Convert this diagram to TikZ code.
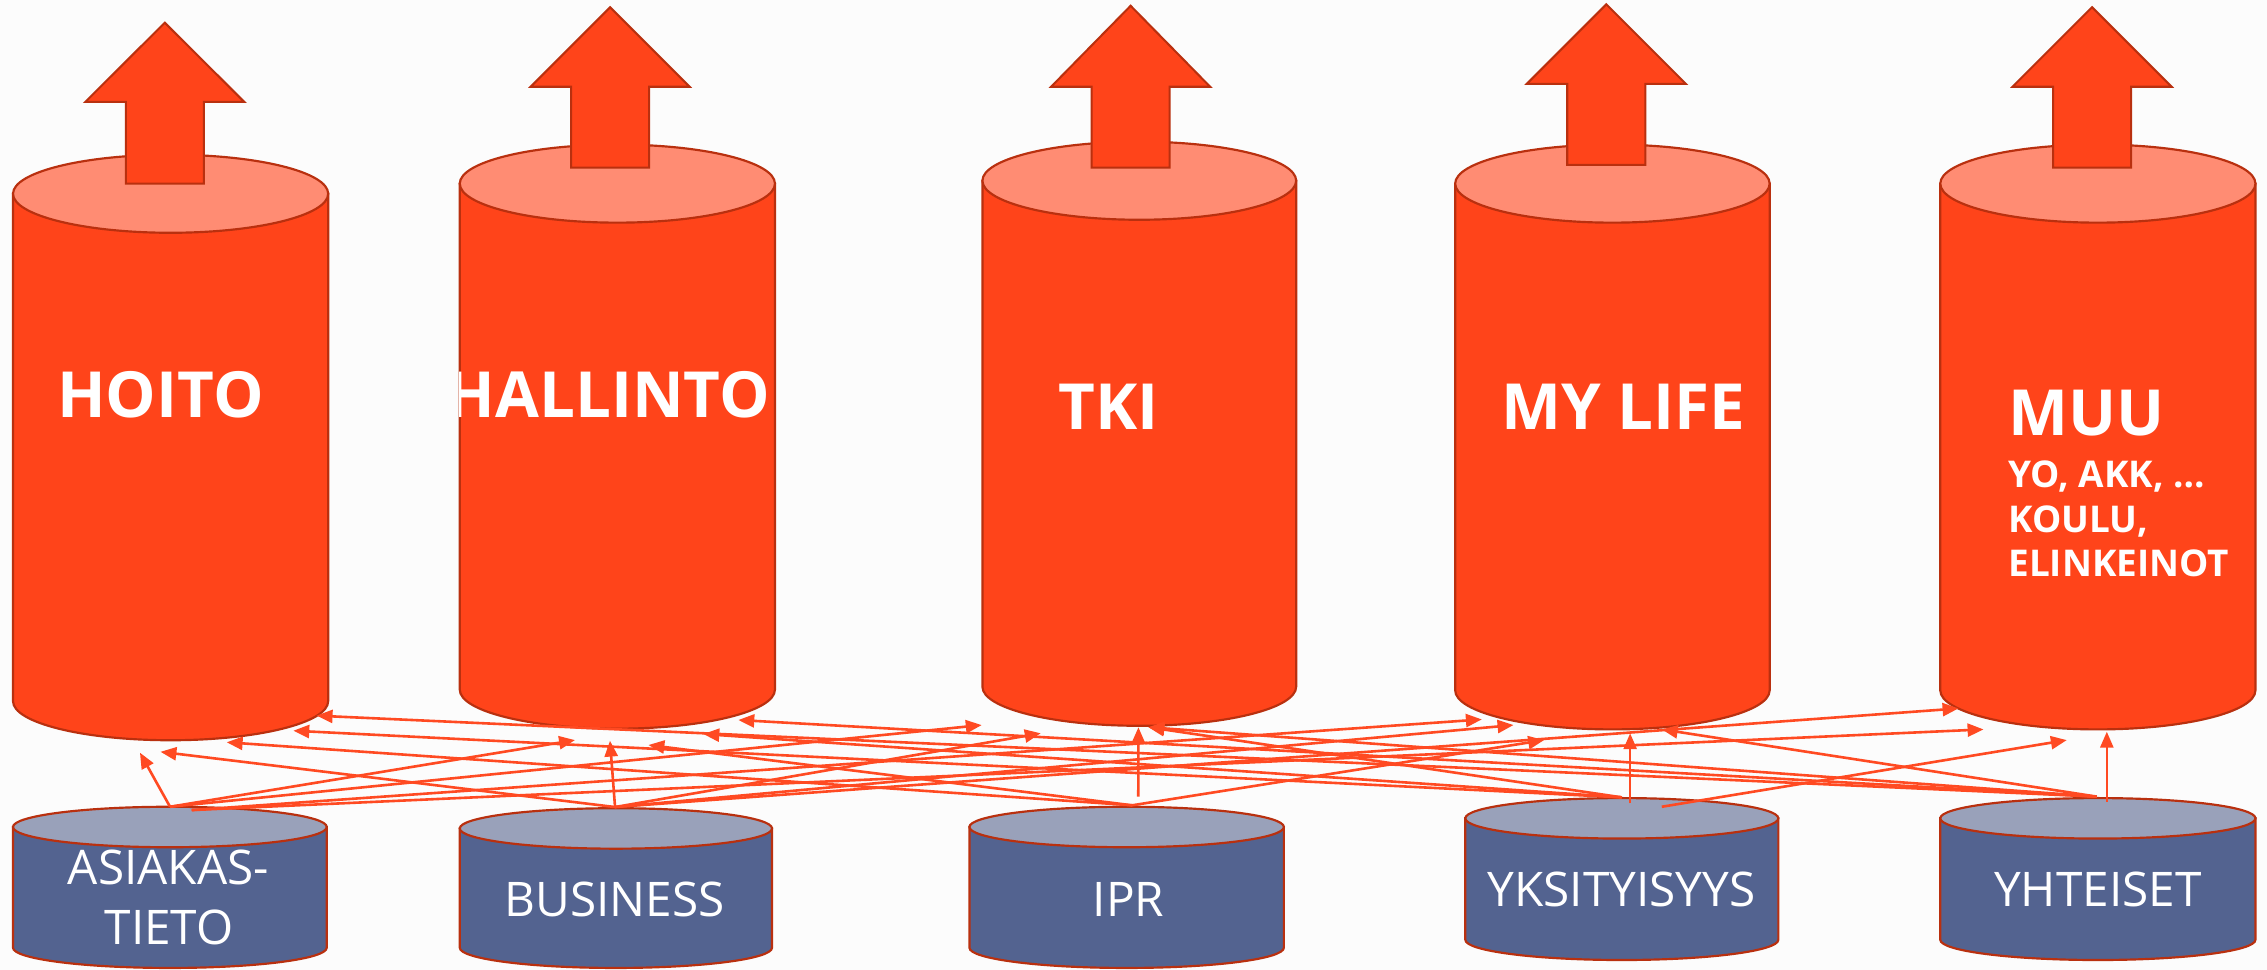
\documentclass[tikz,border=0pt]{standalone}
\usepackage{fontspec}
\setmainfont{Open Sans}
\usetikzlibrary{arrows.meta}
\definecolor{orbody}{HTML}{FF441A}
\definecolor{ortop}{HTML}{FF8C73}
\definecolor{edgec}{HTML}{B9300F}
\definecolor{blbody}{HTML}{536390}
\definecolor{bltop}{HTML}{99A1BA}
\definecolor{connc}{HTML}{FF4A22}
\definecolor{bgc}{HTML}{FCFCFC}
% #1 left, #2 right, #3 top centre y, #4 bottom centre y, #5 y radius, #6 body, #7 top
\newcommand\mycyl[7]{%
  \filldraw[fill=#6,draw=edgec,line width=1.5] (#1,#3) -- (#1,#4)
    arc[start angle=180,end angle=0,x radius={(#2-#1)/2},y radius=#5] -- (#2,#3) -- cycle;
  \filldraw[fill=#7,draw=edgec,line width=1.5] ({(#1+#2)/2},#3) ellipse[x radius={(#2-#1)/2},y radius=#5];
}
% #1 tip x, #2 tip y, #3 head base y, #4 shaft bottom y
\newcommand\myuparrow[4]{%
  \filldraw[fill=orbody,draw=edgec,line width=1.4] (#1,#2) -- ({#1+55},#3) -- ({#1+27},#3) -- ({#1+27},#4)
    -- ({#1-27},#4) -- ({#1-27},#3) -- ({#1-55},#3) -- cycle;
}
\tikzset{
  toplabel/.style={inner sep=0pt,text=white,font=\fontsize{44}{50}\selectfont\bfseries,anchor=base},
  sublabel/.style={inner sep=0pt,text=white,font=\fontsize{25.5}{30}\selectfont\bfseries,anchor=base west},
  botlabel/.style={inner sep=0pt,text=white,font=\fontsize{33}{40}\selectfont,anchor=base},
  conn/.style={draw=connc,line width=1.8,-{Triangle[length=11pt,width=9pt]}}
}
\begin{document}
\begin{tikzpicture}[x=1pt,y=-1pt]
\useasboundingbox (0,0) rectangle (1568,670.9);
\fill[bgc] (0,0) rectangle (1568,670.9);

% top cylinders
\mycyl{9}{227}{134}{485}{27}{orbody}{ortop}
\mycyl{318}{536}{127}{477}{27}{orbody}{ortop}
\mycyl{679.5}{896.5}{125}{475}{27}{orbody}{ortop}
\mycyl{1006.5}{1224}{127}{477.5}{27}{orbody}{ortop}
\mycyl{1342}{1560}{127}{477.5}{27}{orbody}{ortop}

% big up arrows
\myuparrow{114}{15.7}{70.5}{127}
\myuparrow{422}{5}{60}{116}
\myuparrow{782}{4}{60}{116}
\myuparrow{1111}{3}{58}{114}
\myuparrow{1447}{5}{60}{116}

% top labels
\node[toplabel] (hoito) at (111,288.7) {HOITO};
\begin{scope}
  \clip (318,100) rectangle (536,510);
  \node[toplabel] (hallinto) at (420.8,289) {HALLINTO};
\end{scope}
\node[toplabel] (tki) at (767,296.8) {TKI};
\node[toplabel] (mylife) at (1122.5,296.8) {MY LIFE};
\node[toplabel,anchor=base west] (muu) at (1389,301) {MUU};
\node[sublabel] (muu1) at (1389,337.5) {YO, AKK, …};
\node[sublabel] (muu2) at (1389,368.6) {KOULU,};
\node[sublabel] (muu3) at (1389,399) {ELINKEINOT};

% bottom cylinders
\mycyl{9}{226}{572}{655.5}{14}{blbody}{bltop}
\mycyl{318}{534}{573}{655.5}{14}{blbody}{bltop}
\mycyl{670.5}{888}{572}{655.5}{14}{blbody}{bltop}
\mycyl{1013.5}{1230}{566}{650}{14}{blbody}{bltop}
\mycyl{1342}{1560}{566}{650}{14}{blbody}{bltop}

\node[botlabel] (asiakas1) at (116.5,612) {ASIAKAS-};
\node[botlabel] (asiakas2) at (117,653) {TIETO};
\node[botlabel] (business) at (425,634) {BUSINESS};
\node[botlabel] (ipr) at (780.5,634) {IPR};
\node[botlabel] (yksi) at (1121.5,627) {YKSITYISYYS};
\node[botlabel] (yhteiset) at (1451,627) {YHTEISET};

% connector end points
\coordinate (hA1) at (117.6,558);
\coordinate (hA2) at (132.6,560.3);
\coordinate (hB) at (425.4,558.2);
\coordinate (hI) at (783,557);
\coordinate (hIu) at (787.3,551);
\coordinate (hY) at (1121.7,551.5);
\coordinate (hYu) at (1127.5,555.7);
\coordinate (hY2) at (1149.4,558);
\coordinate (hH) at (1450.3,551);
\coordinate (hHu) at (1457.2,554.5);

\coordinate (tHA) at (96.8,520.6);
\coordinate (tHB) at (111,520);
\coordinate (tHI) at (156.8,513.4);
\coordinate (tHY) at (202.9,505.4);
\coordinate (tHH) at (219,495);
\coordinate (tLA) at (397.7,511.9);
\coordinate (tLB) at (421.9,512.3);
\coordinate (tLI) at (448.5,515.3);
\coordinate (tLY) at (486.5,507.7);
\coordinate (tLH) at (510.7,498);
\coordinate (tTA) at (679,501.5);
\coordinate (tTB) at (719.8,507.2);
\coordinate (tTI) at (787.4,503);
\coordinate (tTR) at (794.3,503);
\coordinate (tMA) at (1024.9,497.6);
\coordinate (tMB) at (1046.8,501.5);
\coordinate (tMI) at (1068,511.9);
\coordinate (tMY) at (1127.5,507.2);
\coordinate (tMH) at (1149.4,504.5);
\coordinate (tUB) at (1354.6,490);
\coordinate (tUA) at (1371.9,504.5);
\coordinate (tUY) at (1429.5,511.9);
\coordinate (tUH) at (1457.2,506.1);

% connectors
\draw[conn] (hA1) -- (tHA);
\draw[conn] (hA1) -- (tLA);
\draw[conn] (hA1) -- (tTA);
\draw[conn] (hA2) -- (tMA);
\draw[conn] (hA2) -- (tUA);

\draw[conn] (hB) -- (tHB);
\draw[conn] (hB) -- (tLB);
\draw[conn] (hB) -- (tTB);
\draw[conn] (hB) -- (tMB);
\draw[conn] (hB) -- (tUB);

\draw[conn] (hI) -- (tHI);
\draw[conn] (hI) -- (tLI);
\draw[conn] (hIu) -- (tTI);
\draw[conn] (hI) -- (tMI);

\draw[conn] (hY) -- (tHY);
\draw[conn] (hY) -- (tLY);
\draw[conn] (hY) -- (tTR);
\draw[conn] (hYu) -- (tMY);
\draw[conn] (hY2) -- (tUY);

\draw[conn] (hH) -- (tHH);
\draw[conn] (hH) -- (tLH);
\draw[conn] (hH) -- (tTR);
\draw[conn] (hH) -- (tMH);
\draw[conn] (hHu) -- (tUH);
\end{tikzpicture}
\end{document}
